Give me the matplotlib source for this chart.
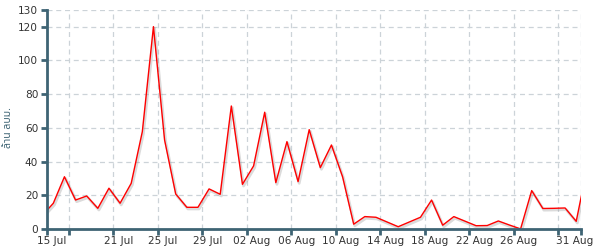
import datetime as dt
import matplotlib
matplotlib.use('Agg')
import matplotlib.pyplot as plt
import matplotlib.dates as mdates
import matplotlib.patheffects as pe
from matplotlib.transforms import ScaledTranslation

# daily readings (points fall at ~14:00 each day, first and last are clipped)
start = dt.datetime(2023, 7, 14, 14, 24)
values = [8.1, 15.4, 31.1, 17.3, 19.7, 12.4, 24.3, 15.4, 27.2, 57.8,
          120.0, 52.9, 20.9, 13.0, 13.0, 23.9, 20.7, 73.0, 26.6, 37.5,
          69.3, 27.6, 51.9, 28.2, 59.0, 36.5, 49.9, 31.1, 3.0, 7.5,
          7.1, 4.3, 1.5, 4.3, 7.1, 17.3, 2.4, 7.5, 4.8, 2.1,
          2.2, 4.9, 2.5, 0.2, 22.9, 12.3, 12.4, 12.6, 4.7, 37.0]
dates = [start + dt.timedelta(days=i) for i in range(len(values))]

tick_days = ['2023-07-15', '2023-07-17', '2023-07-21', '2023-07-25', '2023-07-29',
             '2023-08-02', '2023-08-06', '2023-08-10', '2023-08-14', '2023-08-18',
             '2023-08-22', '2023-08-26', '2023-08-30', '2023-09-01']
label_days = ['2023-07-15', '2023-07-21', '2023-07-25', '2023-07-29', '2023-08-02',
              '2023-08-06', '2023-08-10', '2023-08-14', '2023-08-18', '2023-08-22',
              '2023-08-26', '2023-08-31']
label_text = ['15 Jul', '21 Jul', '25 Jul', '29 Jul', '02 Aug', '06 Aug', '10 Aug',
              '14 Aug', '18 Aug', '22 Aug', '26 Aug', '31 Aug']
yticks = [0, 20, 40, 60, 80, 100, 120, 130]

axis_col = '#3e6474'
grid_col = '#ccd3d8'
text_col = '#333333'

fig = plt.figure(figsize=(5.98, 2.5), dpi=100)
ax = fig.add_axes([0.078, 0.083, 0.893, 0.878])

ax.plot(dates, values, color='#ff0000', lw=1.0, clip_on=True,
        path_effects=[pe.SimpleLineShadow(offset=(0.8, -1.2), shadow_color='#999999', alpha=0.35, linewidth=2),
                      pe.Normal()])

ax.set_xlim(dt.datetime(2023, 7, 15), dt.datetime(2023, 9, 1))
ax.set_ylim(0, 130)

# tick marks + vertical grid on minor, labels on major
ax.xaxis.remove_overlapping_locs = False
ax.set_xticks([mdates.datestr2num(d) for d in tick_days], minor=True)
ax.set_xticks([mdates.datestr2num(d) for d in label_days])
ax.set_xticklabels(label_text)
ax.tick_params(axis='x', which='major', length=0, pad=5, labelsize=7.6, labelcolor=text_col)
ax.tick_params(axis='x', which='minor', length=4, width=2, color=axis_col)
for lab in ax.get_xticklabels():
    lab.set_transform(lab.get_transform() + ScaledTranslation(5 / 100, 0, fig.dpi_scale_trans))
ax.xaxis.grid(True, which='minor', color=grid_col, linestyle=(0, (4, 3)), lw=0.9)

ax.set_yticks(yticks)
ax.tick_params(axis='y', length=4, width=2, color=axis_col, labelsize=7.6, labelcolor=text_col, pad=2)
ax.yaxis.grid(True, color=grid_col, linestyle=(0, (4, 3)), lw=0.9)
ax.set_axisbelow(True)

for s in ['top', 'right']:
    ax.spines[s].set_visible(False)
for s in ['left', 'bottom']:
    ax.spines[s].set_color(axis_col)
    ax.spines[s].set_linewidth(2)

fig.text(0.014, 0.49, 'ล้าน ลบม.', rotation=90, ha='center', va='center',
         fontsize=7.5, fontweight='bold', color=axis_col,
         family=['Noto Sans Thai', 'Loma', 'Tlwg Typo', 'DejaVu Sans'])

fig.savefig('out.png', dpi=100)
